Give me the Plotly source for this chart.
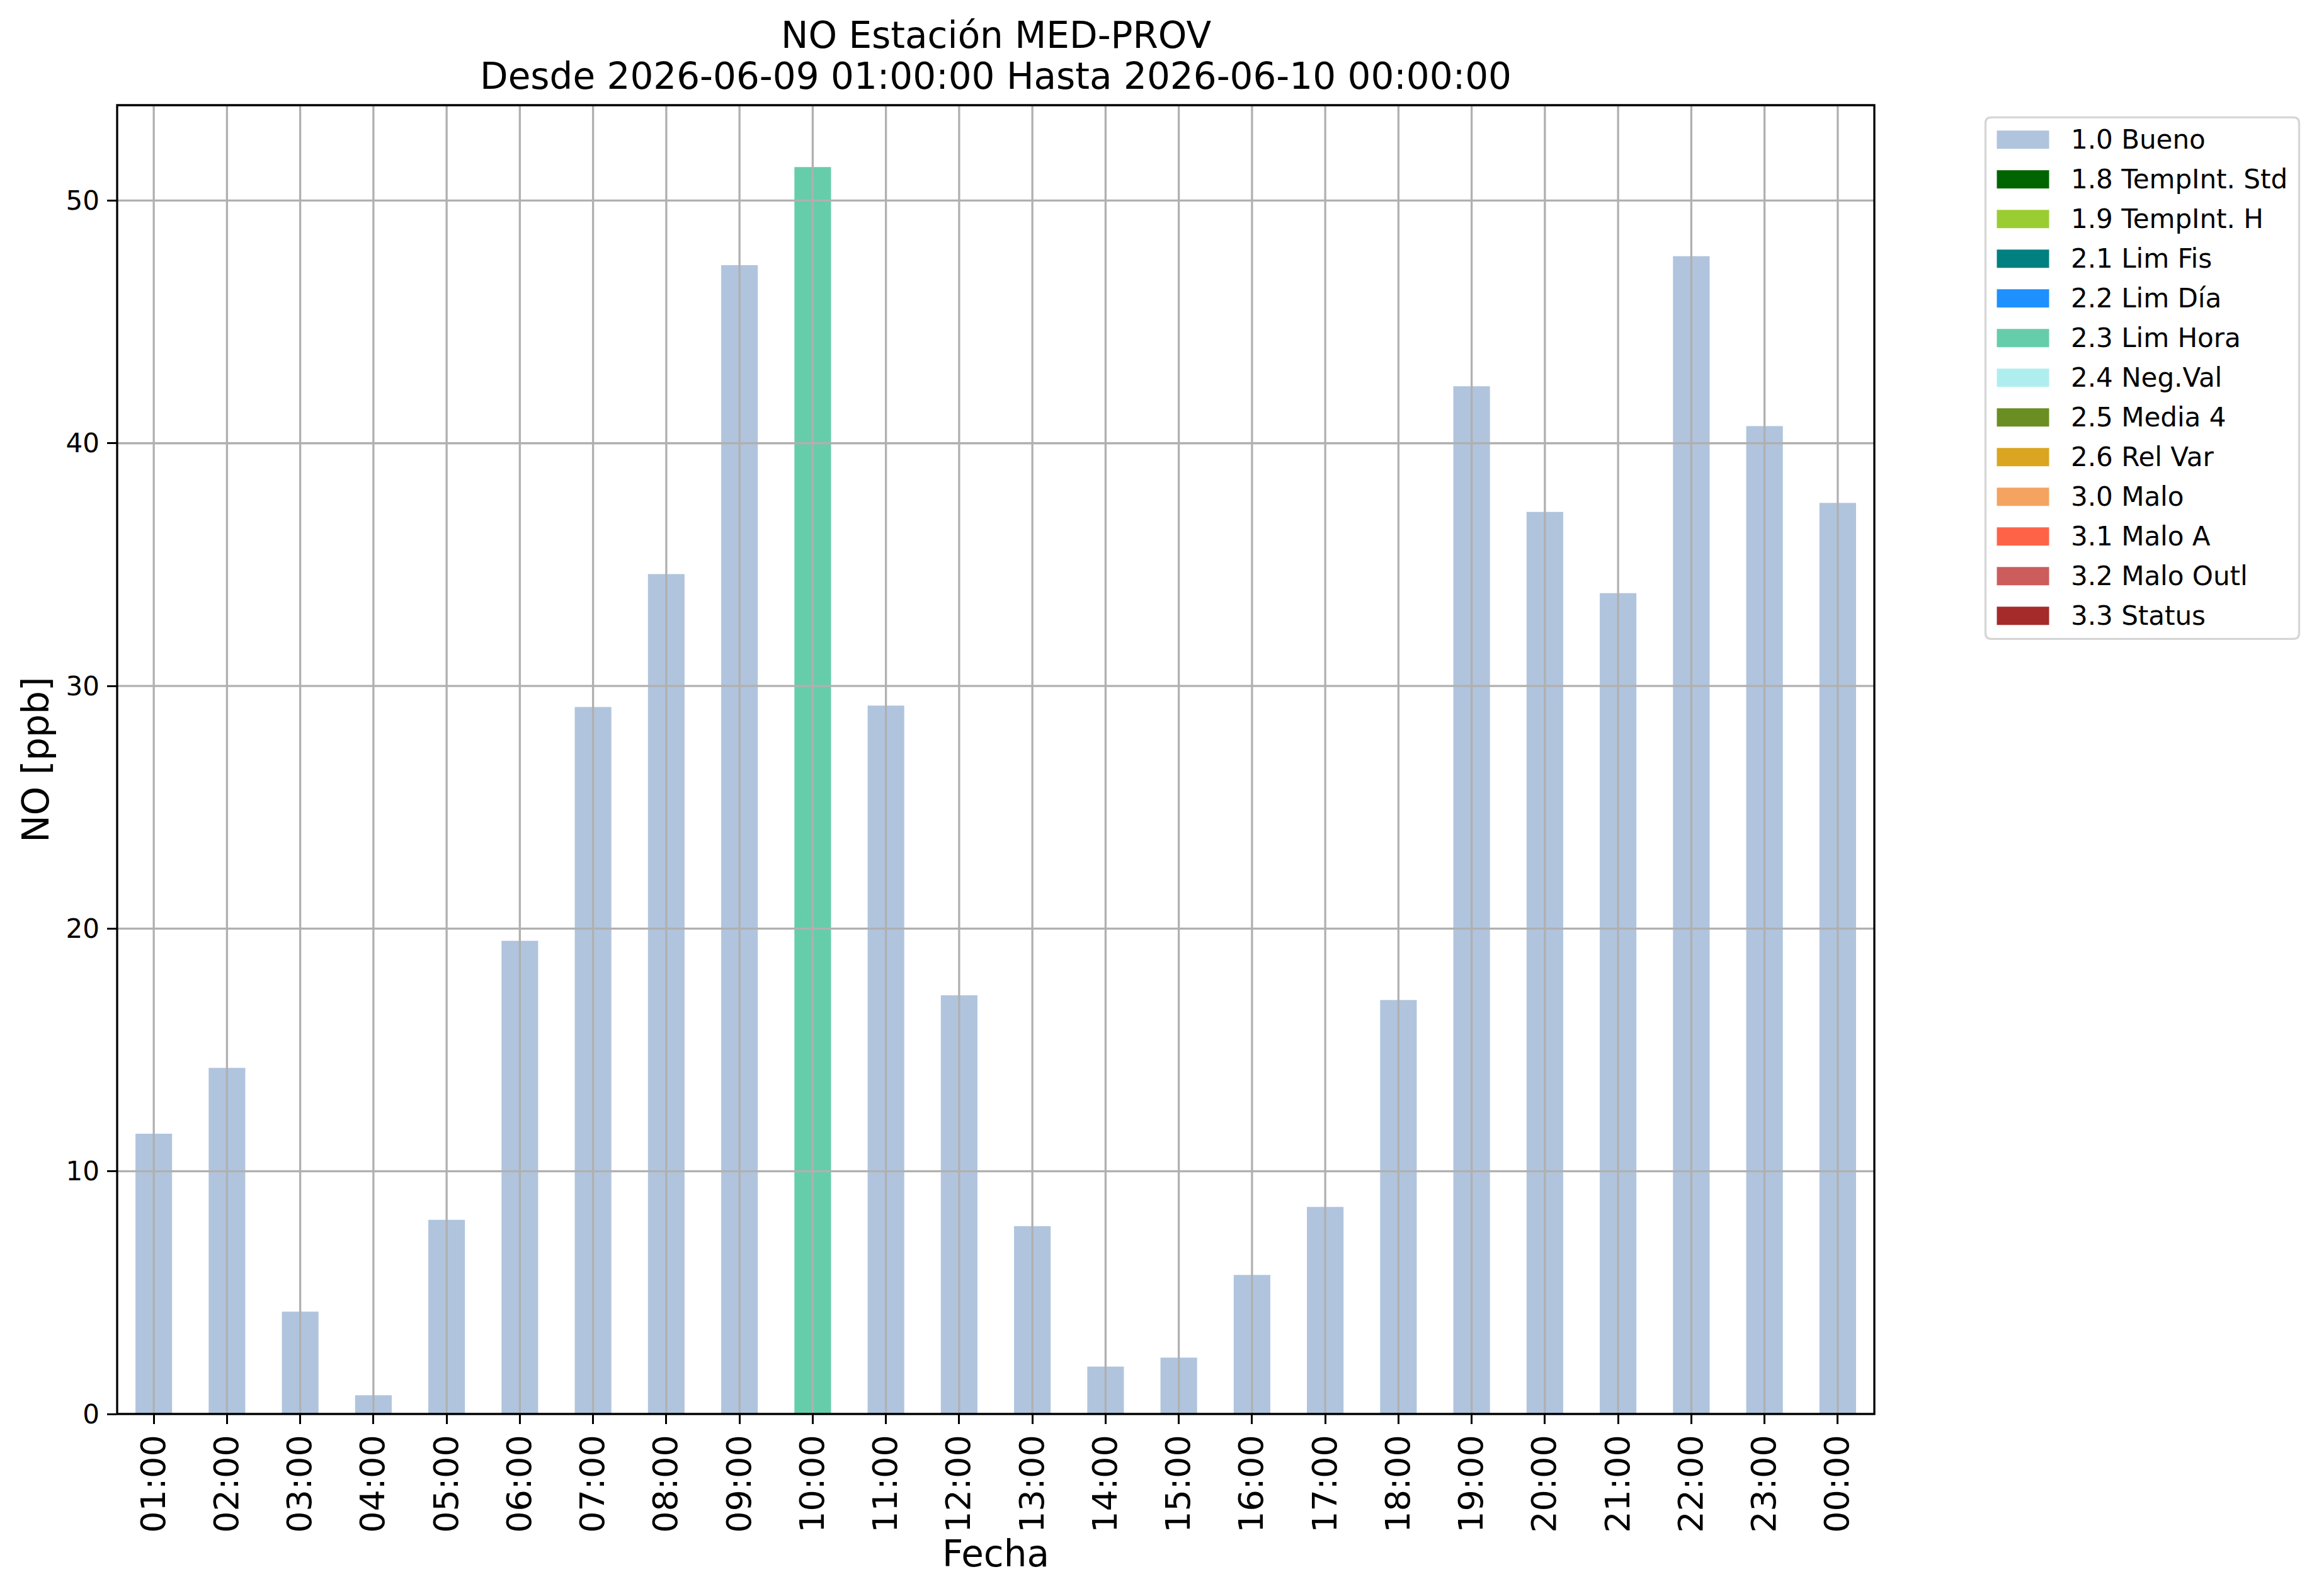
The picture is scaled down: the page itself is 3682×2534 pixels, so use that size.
import plotly.graph_objects as go

# ==== DATA ====
hours = ["01:00", "02:00", "03:00", "04:00", "05:00", "06:00", "07:00", "08:00",
         "09:00", "10:00", "11:00", "12:00", "13:00", "14:00", "15:00", "16:00",
         "17:00", "18:00", "19:00", "20:00", "21:00", "22:00", "23:00", "00:00"]
no_ppb = [11.55, 14.26, 4.22, 0.77, 8.0, 19.5, 29.13, 34.61,
          47.34, 51.38, 29.19, 17.25, 7.74, 1.95, 2.32, 5.73,
          8.53, 17.06, 42.35, 37.17, 33.82, 47.71, 40.71, 37.54]
hour_flags = ["1.0 Bueno", "1.0 Bueno", "1.0 Bueno", "1.0 Bueno", "1.0 Bueno", "1.0 Bueno",
              "1.0 Bueno", "1.0 Bueno", "1.0 Bueno", "2.3 Lim Hora", "1.0 Bueno", "1.0 Bueno",
              "1.0 Bueno", "1.0 Bueno", "1.0 Bueno", "1.0 Bueno", "1.0 Bueno", "1.0 Bueno",
              "1.0 Bueno", "1.0 Bueno", "1.0 Bueno", "1.0 Bueno", "1.0 Bueno", "1.0 Bueno"]

flag_labels = ["1.0 Bueno", "1.8 TempInt. Std", "1.9 TempInt. H", "2.1 Lim Fis",
               "2.2 Lim Día", "2.3 Lim Hora", "2.4 Neg.Val", "2.5 Media 4",
               "2.6 Rel Var", "3.0 Malo", "3.1 Malo A", "3.2 Malo Outl", "3.3 Status"]
flag_colors = ["#B0C4DE", "#006400", "#9ACD32", "#008080",
               "#1E90FF", "#66CDAA", "#AFEEEE", "#6B8E23",
               "#DAA520", "#F4A460", "#FF6347", "#CD5C5C", "#A52A2A"]

y_ticks = [0, 10, 20, 30, 40, 50]
y_max = 53.93

# ==== LAYOUT (pixels, page coords) ====
FW, FH = 3682, 2534
OFF = 8  # body margin of the html page
L, R, T, B = 186.2, 2976.5, 166.7, 2244.7
PW, PH = R - L, B - T
FONT = "DejaVu Sans"
LW = 3.3
GRID = "#b0b0b0"


def fx(px):
    return (px - L) / PW


def fy(py):
    return (B - py) / PH


fig = go.Figure()

# one bar trace per quality flag (bars overlaid at the same hour)
for label, color in zip(flag_labels, flag_colors):
    fig.add_trace(go.Bar(
        x=hours,
        y=[v if f == label else None for v, f in zip(no_ppb, hour_flags)],
        name=label, marker_color=color, marker_line_width=0,
        width=0.5, showlegend=False,
    ))

shapes = []
# grid drawn above the bars, like matplotlib's
for h in hours:
    shapes.append(dict(type="line", layer="above", xref="x", yref="paper",
                       x0=h, x1=h, y0=0, y1=1, line=dict(color=GRID, width=LW)))
for t in y_ticks[1:]:
    shapes.append(dict(type="line", layer="above", xref="paper", yref="y",
                       x0=0, x1=1, y0=t, y1=t, line=dict(color=GRID, width=LW)))
# frame
shapes.append(dict(type="rect", layer="above", xref="paper", yref="paper",
                   x0=0, x1=1, y0=0, y1=1, line=dict(color="black", width=LW)))

# ==== LEGEND (manual, matplotlib-like) ====
lx0, lx1, ly0, ly1, rr = 3153, 3651, 186, 1014, 9
path = (f"M{fx(lx0 + rr)},{fy(ly0)} L{fx(lx1 - rr)},{fy(ly0)} "
        f"Q{fx(lx1)},{fy(ly0)} {fx(lx1)},{fy(ly0 + rr)} "
        f"L{fx(lx1)},{fy(ly1 - rr)} Q{fx(lx1)},{fy(ly1)} {fx(lx1 - rr)},{fy(ly1)} "
        f"L{fx(lx0 + rr)},{fy(ly1)} Q{fx(lx0)},{fy(ly1)} {fx(lx0)},{fy(ly1 - rr)} "
        f"L{fx(lx0)},{fy(ly0 + rr)} Q{fx(lx0)},{fy(ly0)} {fx(lx0 + rr)},{fy(ly0)} Z")
shapes.append(dict(type="path", layer="above", xref="paper", yref="paper", path=path,
                   fillcolor="rgba(255,255,255,0.8)", line=dict(color="#d6d6d6", width=LW)))

annotations = []
row0, row_h = 221.5, 63.0
for i, (label, color) in enumerate(zip(flag_labels, flag_colors)):
    cy = row0 + i * row_h
    shapes.append(dict(type="rect", layer="above", xref="paper", yref="paper",
                       x0=fx(3171), x1=fx(3254), y0=fy(cy - 14.5), y1=fy(cy + 14.5),
                       fillcolor=color, line=dict(width=0)))
    annotations.append(dict(text=label, xref="paper", yref="paper", x=fx(3287), y=fy(cy),
                            xanchor="left", yanchor="middle", showarrow=False,
                            font=dict(family=FONT, size=42, color="black")))

# ==== TITLES ====
annotations.append(dict(text="NO Estación MED-PROV", xref="paper", yref="paper",
                        x=0.5, y=fy(56), xanchor="center", yanchor="middle", showarrow=False,
                        font=dict(family=FONT, size=58, color="black")))
annotations.append(dict(text="Desde 2026-06-09 01:00:00 Hasta 2026-06-10 00:00:00",
                        xref="paper", yref="paper", x=0.5, y=fy(121), xanchor="center",
                        yanchor="middle", showarrow=False,
                        font=dict(family=FONT, size=58, color="black")))
annotations.append(dict(text="Fecha", xref="paper", yref="paper", x=0.5, y=fy(2467),
                        xanchor="center", yanchor="middle", showarrow=False,
                        font=dict(family=FONT, size=58, color="black")))
annotations.append(dict(text="NO [ppb]", xref="paper", yref="paper", x=fx(57), y=0.5,
                        xanchor="center", yanchor="middle", textangle=-90, showarrow=False,
                        font=dict(family=FONT, size=58, color="black")))

fig.update_layout(
    width=FW - 2 * OFF, height=FH - 2 * OFF,
    margin=dict(l=L - OFF, r=FW - OFF - R, t=T - OFF, b=FH - OFF - B, pad=0),
    barmode="overlay",
    plot_bgcolor="white", paper_bgcolor="white",
    font=dict(family=FONT, color="black"),
    shapes=shapes, annotations=annotations,
    showlegend=False,
)
fig.update_xaxes(
    type="category", categoryorder="array", categoryarray=hours,
    range=[-0.5, len(hours) - 0.5],
    showgrid=False, zeroline=False, showline=False,
    ticks="outside", ticklen=14.6, tickwidth=LW, tickcolor="black",
    tickangle=-90, tickfont=dict(family=FONT, size=54, color="black"),
    ticklabelstandoff=-4, automargin=False,
)
fig.update_yaxes(
    range=[0, y_max], tickvals=y_ticks,
    showgrid=False, zeroline=False, showline=False,
    ticks="outside", ticklen=14.6, tickwidth=LW, tickcolor="black",
    tickfont=dict(family=FONT, size=42, color="black"),
    ticklabelstandoff=4, automargin=False,
)

fig.write_html("out.html")
